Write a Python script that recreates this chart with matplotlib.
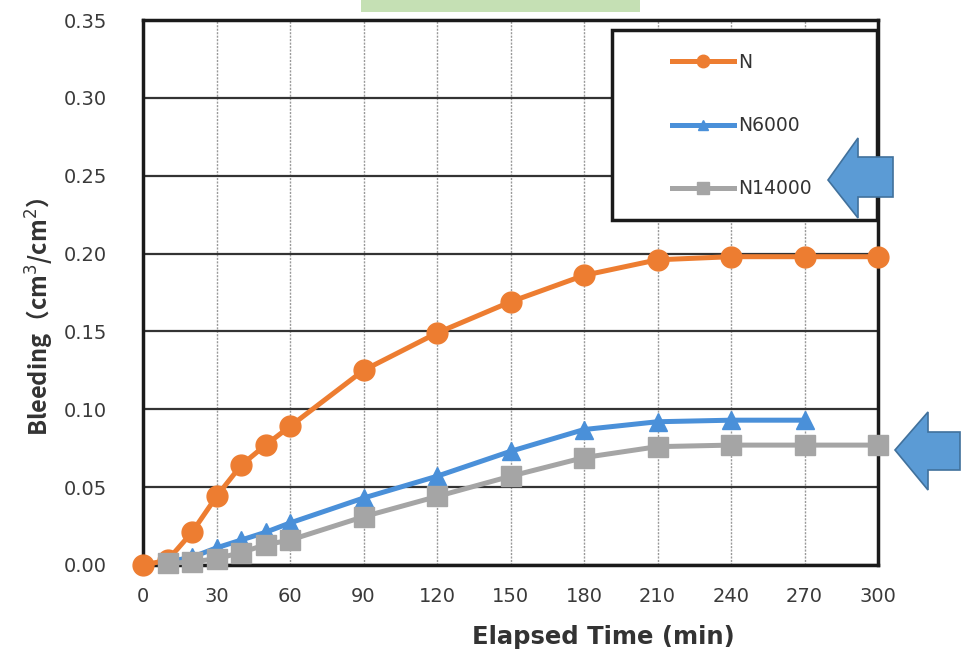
import matplotlib
matplotlib.use("Agg")
import matplotlib.pyplot as plt
from matplotlib.patches import Polygon, Rectangle

# ---- data ----
time_N = [0, 10, 20, 30, 40, 50, 60, 90, 120, 150, 180, 210, 240, 270, 300]
bleed_N = [0.000, 0.003, 0.021, 0.044, 0.064, 0.077, 0.089, 0.125, 0.149, 0.169, 0.186, 0.196, 0.198, 0.198, 0.198]

time_N6000 = [10, 20, 30, 40, 50, 60, 90, 120, 150, 180, 210, 240, 270]
bleed_N6000 = [0.002, 0.005, 0.011, 0.016, 0.021, 0.027, 0.043, 0.057, 0.073, 0.087, 0.092, 0.093, 0.093]

time_N14000 = [10, 20, 30, 40, 50, 60, 90, 120, 150, 180, 210, 240, 270, 300]
bleed_N14000 = [0.001, 0.002, 0.004, 0.008, 0.013, 0.016, 0.031, 0.044, 0.057, 0.069, 0.076, 0.077, 0.077, 0.077]

series_labels = ["N", "N6000", "N14000"]
x_ticks = [0, 30, 60, 90, 120, 150, 180, 210, 240, 270, 300]
y_ticks = [0.00, 0.05, 0.10, 0.15, 0.20, 0.25, 0.30, 0.35]

W, H = 967, 657
fig = plt.figure(figsize=(W / 100, H / 100), dpi=100)
fig.patch.set_facecolor("white")

def fx(px):
    return px / W

def fy(py):
    return 1 - py / H

ax = fig.add_axes([fx(143), fy(565), fx(878) - fx(143), fy(20) - fy(565)])
ax.set_xlim(0, 300)
ax.set_ylim(0, 0.35)
ax.set_xticks(x_ticks)
ax.set_yticks(y_ticks)
ax.set_xticklabels([str(t) for t in x_ticks])
ax.set_yticklabels([f"{t:.2f}" for t in y_ticks])
ax.tick_params(axis="both", length=0, labelsize=14, colors="#3a3a3a")
ax.tick_params(axis="x", pad=16)
ax.tick_params(axis="y", pad=26)

for sp in ax.spines.values():
    sp.set_linewidth(2.5)
    sp.set_color("#1a1a1a")

ax.xaxis.grid(True, color="#999999", linewidth=1.0, linestyle=(0, (1.5, 1)))
ax.yaxis.grid(True, color="#333333", linewidth=1.6)
ax.set_axisbelow(True)

orange = "#ED7D31"
blue = "#4A90D9"
gray = "#A5A5A5"

l1, = ax.plot(time_N, bleed_N, color=orange, lw=3.6, marker="o", ms=15,
              clip_on=False, zorder=3, label=series_labels[0])
l3, = ax.plot(time_N14000, bleed_N14000, color=gray, lw=3.6, marker="s", ms=14,
              clip_on=False, zorder=4, label=series_labels[2])
l2, = ax.plot(time_N6000, bleed_N6000, color=blue, lw=3.6, marker="^", ms=13,
              clip_on=False, zorder=3, label=series_labels[1])

# legend frame
fig.patches.append(Rectangle((fx(612), fy(220)), fx(877) - fx(612), fy(30) - fy(220),
                             transform=fig.transFigure, facecolor="white",
                             edgecolor="#1a1a1a", linewidth=2.5, zorder=5))
leg = fig.legend([l1, l2, l3], series_labels, loc="upper left",
                 bbox_to_anchor=(fx(657), fy(38)), frameon=False, fontsize=13.5,
                 handlelength=3.3, handletextpad=0.25, labelspacing=2.35,
                 markerscale=0.6, borderpad=0.3)
for t in leg.get_texts():
    t.set_color("#333333")
leg.set_zorder(6)

# axis labels
fig.text(fx(40), fy(317), "Bleeding（cm$^3$/cm$^2$）", rotation=90, ha="center", va="center",
         fontsize=17, fontweight="bold", color="#333333",
         family=["Noto Sans CJK JP", "DejaVu Sans"])
fig.text(fx(603), fy(637), "Elapsed Time (min)", ha="center", va="center",
         fontsize=17.5, fontweight="bold", color="#333333")

# decorations: green bar and blue arrows
fig.patches.append(Rectangle((fx(361), fy(12)), fx(640) - fx(361), fy(0) - fy(12),
                             transform=fig.transFigure, facecolor="#C5E0B4",
                             edgecolor="none", zorder=7))

def arrow(tip_x, tip_y, head_x, head_top, head_bot, shaft_top, shaft_bot, right_x):
    pts = [(tip_x, tip_y), (head_x, head_top), (head_x, shaft_top), (right_x, shaft_top),
           (right_x, shaft_bot), (head_x, shaft_bot), (head_x, head_bot)]
    poly = Polygon([(fx(a), fy(b)) for a, b in pts], closed=True, transform=fig.transFigure,
                   facecolor="#5B9BD5", edgecolor="#41719C", linewidth=1.2, zorder=8)
    fig.patches.append(poly)

arrow(828, 180, 858, 138, 218, 157, 197, 893)
arrow(895, 450, 928, 412, 490, 432, 470, 960)

fig.savefig("out.png", dpi=100)
